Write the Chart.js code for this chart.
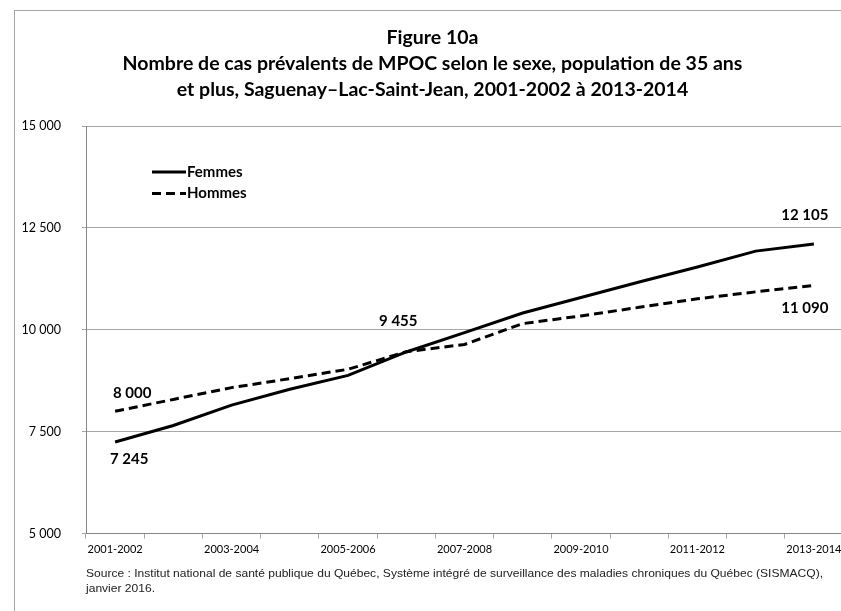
<!DOCTYPE html>
<html lang="fr">
<head>
<meta charset="utf-8">
<script src="https://cdn.jsdelivr.net/npm/chart.js@4/dist/chart.umd.min.js"></script>
<style>
  html, body { margin: 0; padding: 0; background: #fff; overflow: hidden; }
  /* cadre du graphique */
  .cadre {
    position: absolute; left: 14px; top: 10px;
    width: 835px; height: 615px;
    border: 1px solid #a6a6a6;
  }
  #graphique { display: block; }
</style>
</head>
<body>
<div class="cadre">
  <canvas id="graphique" width="835" height="615"></canvas>
</div>
<script>
// Périodes (axe horizontal)
const periodes = [
  '2001-2002', '2002-2003', '2003-2004', '2004-2005', '2005-2006', '2006-2007',
  '2007-2008', '2008-2009', '2009-2010', '2010-2011', '2011-2012', '2012-2013', '2013-2014'
];

// Nombre de cas prévalents - Femmes
const femmes = [7245, 7650, 8150, 8540, 8880, 9455, 9930, 10410, 10790, 11170, 11540, 11930, 12105];

// Nombre de cas prévalents - Hommes
const hommes = [8000, 8290, 8580, 8800, 9030, 9460, 9640, 10150, 10340, 10550, 10760, 10930, 11090];

// Graduations de l'axe vertical
const graduationsY = [5000, 7500, 10000, 12500, 15000];

// Titre
const titre = [
  'Figure 10a',
  'Nombre de cas prévalents de MPOC selon le sexe, population de 35 ans',
  'et plus, Saguenay\u2013Lac-Saint-Jean, 2001-2002 à 2013-2014'
];

// Source
const source = [
  'Source : Institut national de santé publique du Québec, Système intégré de surveillance des maladies chroniques du Québec (SISMACQ),',
  'janvier 2016.'
];

// Étiquettes de valeurs affichées (série, indice, décalage)
const etiquettes = [
  { serie: 0, indice: 0,  dx: 14, dy: 17 },
  { serie: 0, indice: 5,  dx: -8, dy: -31 },
  { serie: 0, indice: 12, dx: -9, dy: -29 },
  { serie: 1, indice: 0,  dx: 17, dy: -18 },
  { serie: 1, indice: 12, dx: -9, dy: 23 }
];

const POLICE = 'Lato, "Open Sans", sans-serif';
const GRIS = '#a6a6a6';

// format 12 105
function formatNombre(v) {
  return String(v).replace(/\B(?=(\d{3})+(?!\d))/g, ' ');
}

/*
  Titre et source
*/
const pluginTextes = {
  id: 'textes',
  afterDraw(chart) {
    const ctx = chart.ctx;
    ctx.save();
    ctx.fillStyle = '#000';
    ctx.textAlign = 'center';
    ctx.textBaseline = 'middle';
    ctx.font = 'bold 19.5px ' + POLICE;
    const cx = chart.width / 2;
    titre.forEach((ligne, i) => {
      ctx.fillText(ligne, cx, 27 + i * 26);
    });

    // source en police étroite : on comprime horizontalement
    ctx.textAlign = 'left';
    ctx.font = '11px "Liberation Sans", Arial, sans-serif';
    ctx.fillStyle = '#222';
    const largeur = ctx.measureText(source[0]).width;
    const echelle = 737 / largeur;
    ctx.translate(71, 0);
    ctx.scale(echelle, 1);
    ctx.fillText(source[0], 0, 563);
    ctx.fillText(source[1], 0, 578);
    ctx.restore();
  }
};

/*
  Légende dans la zone du graphique
*/
const pluginLegende = {
  id: 'legende',
  afterDraw(chart) {
    const ctx = chart.ctx;
    ctx.save();
    chart.data.datasets.forEach((ds, i) => {
      const y = 161 + i * 21.5;
      ctx.strokeStyle = ds.borderColor;
      ctx.lineWidth = ds.borderWidth;
      ctx.setLineDash(ds.borderDash || []);
      ctx.beginPath();
      ctx.moveTo(137, y);
      ctx.lineTo(171, y);
      ctx.stroke();
      ctx.setLineDash([]);
      ctx.fillStyle = '#000';
      ctx.font = 'bold 15px ' + POLICE;
      ctx.textAlign = 'left';
      ctx.textBaseline = 'middle';
      ctx.fillText(ds.label, 172, y);
    });
    ctx.restore();
  }
};

/*
  Étiquettes de valeurs
*/
const pluginEtiquettes = {
  id: 'etiquettes',
  afterDatasetsDraw(chart) {
    const ctx = chart.ctx;
    ctx.save();
    ctx.fillStyle = '#000';
    ctx.font = 'bold 15px ' + POLICE;
    ctx.textAlign = 'center';
    ctx.textBaseline = 'middle';
    etiquettes.forEach(e => {
      const pt = chart.getDatasetMeta(e.serie).data[e.indice];
      const valeur = chart.data.datasets[e.serie].data[e.indice];
      ctx.fillText(formatNombre(valeur), pt.x + e.dx, pt.y + e.dy);
    });
    ctx.restore();
  }
};

new Chart(document.getElementById('graphique'), {
  type: 'line',
  data: {
    labels: periodes,
    datasets: [{
      label: 'Femmes',
      data: femmes,
      borderColor: '#000',
      borderWidth: 3,
      pointRadius: 0,
      tension: 0
    }, {
      label: 'Hommes',
      data: hommes,
      borderColor: '#000',
      borderWidth: 3,
      borderDash: [9, 5],
      pointRadius: 0,
      tension: 0
    }]
  },
  options: {
    responsive: false,
    animation: false,
    devicePixelRatio: 1,
    layout: { padding: { left: 0, top: 115, right: 7, bottom: 52.5 } },
    plugins: {
      legend: { display: false },
      title: { display: false },
      tooltip: { enabled: false }
    },
    scales: {
      x: {
        offset: true,
        afterFit(scale) { scale.height = 40; },
        grid: {
          offset: true,
          drawOnChartArea: false,
          drawTicks: true,
          tickLength: 5,
          color: GRIS
        },
        border: { display: true, color: '#868686' },
        ticks: {
          autoSkip: false,
          maxRotation: 0,
          padding: 4,
          color: '#000',
          font: { family: POLICE, size: 11 },
          callback(val, i) { return i % 2 === 0 ? periodes[i] : ''; }
        }
      },
      y: {
        min: graduationsY[0],
        max: graduationsY[graduationsY.length - 1],
        afterFit(scale) { scale.width = 71; },
        afterBuildTicks(scale) {
          scale.ticks = graduationsY.map(v => ({ value: v }));
        },
        grid: {
          color: GRIS,
          tickLength: 4,
          drawTicks: true
        },
        border: { display: true, color: '#868686' },
        ticks: {
          padding: 21,
          color: '#000',
          font: { family: POLICE, size: 12.5 },
          callback(v) { return formatNombre(v); }
        }
      }
    }
  },
  plugins: [pluginTextes, pluginLegende, pluginEtiquettes]
});
</script>
</body>
</html>
